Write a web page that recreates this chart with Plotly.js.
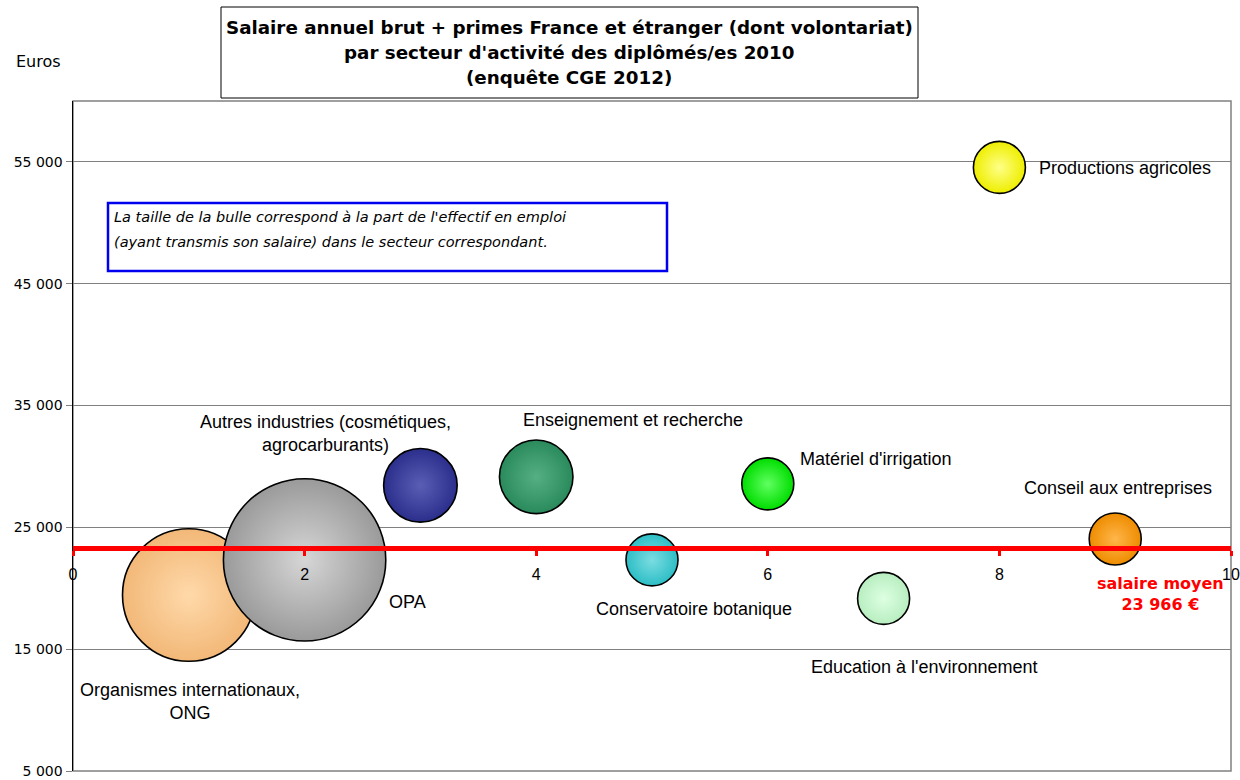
<!DOCTYPE html>
<html>
<head>
<meta charset="utf-8">
<script src="https://cdn.plot.ly/plotly-3.0.1.min.js"></script>
<style>html,body{margin:0;padding:0;background:#fff;}#chart{width:1240px;height:780px;}</style>
</head>
<body>
<div id="chart"></div>
<script>
// ---- data ----
const sectors = ["Organismes internationaux, ONG", "OPA", "Autres industries (cosmétiques, agrocarburants)",
  "Enseignement et recherche", "Conservatoire botanique", "Matériel d'irrigation",
  "Education à l'environnement", "Productions agricoles", "Conseil aux entreprises"];
const xPos = [1, 2, 3, 4, 5, 6, 7, 8, 9];
const salaries = [19450, 22330, 28450, 29150, 22330, 28570, 19170, 54550, 24050];
const shares = [26, 39, 8, 8, 4, 4, 4, 4, 4];
const meanSalaryLabel = "23 966 €";
const axisCross = 23300;
const yTicks = [5000, 15000, 25000, 35000, 45000, 55000];
const xTicks = [0, 2, 4, 6, 8, 10];
const titleLines = ["Salaire annuel brut + primes France et étranger (dont volontariat)",
  "par secteur d'activité des diplômés/es 2010", "(enquête CGE 2012)"];
const noteLines = ["La taille de la bulle correspond à la part de l'effectif en emploi",
  "(ayant transmis son salaire) dans le secteur correspondant."];

const baseColors = ["#F2B878", "#9A9A9A", "#2B2F8C", "#2A8A5C", "#2DBEC5", "#00DD00", "#B8EEC0", "#EEEE00", "#EE8C00"];
const lightColors = ["#FFD9AA", "#D6D6D6", "#5A5EB4", "#55B083", "#7BDDE2", "#60FF60", "#DDFFE2", "#FFFF88", "#FFB64A"];

// ---- layout helpers (pixel -> paper) ----
const L = 73, R = 1231, T = 101, B = 771;
const W = 1240, H = 780;
const px = v => (v - L) / (R - L);
const py = v => (B - v) / (B - T);

const yMin = 5000, yMax = 60000;

const trace = {
  type: "scatter", mode: "markers",
  x: xPos, y: salaries, text: sectors, hoverinfo: "text+y",
  marker: {
    size: shares, sizemode: "area", sizeref: 2 / (26 * 26),
    color: baseColors, opacity: 1,
    gradient: { type: "radial", color: lightColors },
    line: { color: "#000", width: 1.6 }
  },
  showlegend: false
};

const labelFont = { family: "Liberation Sans, Arial, sans-serif", size: 18, color: "#000" };
function lab(text, x, y, xanchor) {
  return { text: text, xref: "paper", yref: "paper", x: px(x), y: py(y), xanchor: xanchor || "center",
    yanchor: "middle", showarrow: false, font: labelFont, align: "center" };
}

const annotations = [
  lab("Organismes internationaux,<br>ONG", 190, 701),
  lab("OPA", 407, 602),
  lab("Autres industries (cosmétiques,<br>agrocarburants)", 325, 433),
  lab("Enseignement et recherche", 633, 420),
  lab("Matériel d'irrigation", 798, 459, "left"),
  lab("Conservatoire botanique", 694, 609),
  lab("Education à l'environnement", 924, 667),
  lab("Productions agricoles", 1037, 168, "left"),
  lab("Conseil aux entreprises", 1118, 488),
  { text: "<b>salaire moyen<br>" + meanSalaryLabel + "</b>", xref: "paper", yref: "paper", x: px(1160), y: py(594),
    xanchor: "center", yanchor: "middle", showarrow: false, align: "center",
    font: { family: "DejaVu Sans, sans-serif", size: 16, color: "#FF0000" } },
  { text: "Euros", xref: "paper", yref: "paper", x: px(38), y: py(62), xanchor: "center", yanchor: "middle",
    showarrow: false, font: { family: "DejaVu Sans, sans-serif", size: 16, color: "#000" } }
];
const titleY = [27, 52, 78];
titleLines.forEach((t, i) => annotations.push({
  text: "<b>" + t + "</b>", xref: "paper", yref: "paper", x: px(569), y: py(titleY[i]),
  xanchor: "center", yanchor: "middle", showarrow: false,
  font: { family: "DejaVu Sans, sans-serif", size: 18.3, color: "#000" }
}));
const noteY = [217, 242];
noteLines.forEach((t, i) => annotations.push({
  text: "<i>" + t + "</i>", xref: "paper", yref: "paper", x: px(112), y: py(noteY[i]),
  xanchor: "left", yanchor: "middle", showarrow: false,
  font: { family: "DejaVu Sans, sans-serif", size: 14.5, color: "#000" }
}));

const shapes = [
  { type: "rect", xref: "paper", yref: "paper", x0: 0, x1: 1, y0: 0, y1: 1, line: { color: "#808080", width: 1.5 }, layer: "below" },
  { type: "rect", xref: "paper", yref: "paper", x0: px(221), x1: px(918), y0: py(98), y1: py(7), line: { color: "#000", width: 1 }, fillcolor: "#fff" },
  { type: "rect", xref: "paper", yref: "paper", x0: px(108), x1: px(667), y0: py(271), y1: py(203), line: { color: "#0000EE", width: 2.5 }, fillcolor: "rgba(0,0,0,0)" }
];

const layout = {
  width: W, height: H,
  margin: { l: L, r: W - R, t: T, b: H - B, pad: 0 },
  paper_bgcolor: "#fff", plot_bgcolor: "#fff",
  separators: ", ",
  showlegend: false,
  xaxis: {
    range: [0, 10], tickvals: xTicks, anchor: "free",
    position: (axisCross - yMin) / (yMax - yMin),
    showgrid: false, zeroline: false,
    showline: true, linecolor: "#FF0000", linewidth: 5,
    ticks: "outside", ticklen: 5, tickwidth: 3, tickcolor: "#FF0000",
    ticklabelstandoff: 5,
    tickfont: { family: "Liberation Sans, Arial, sans-serif", size: 16, color: "#000" },
    fixedrange: true
  },
  yaxis: {
    range: [yMin, yMax], tickvals: yTicks, tickformat: ",d",
    showgrid: true, gridcolor: "#808080", gridwidth: 1,
    zeroline: false, showline: true, linecolor: "#000", linewidth: 1.5,
    ticks: "outside", ticklen: 6, tickcolor: "#808080",
    tickfont: { family: "DejaVu Sans, sans-serif", size: 14, color: "#000" },
    fixedrange: true
  },
  annotations: annotations,
  shapes: shapes
};

Plotly.newPlot("chart", [trace], layout, { staticPlot: true, displayModeBar: false });
</script>
</body>
</html>
